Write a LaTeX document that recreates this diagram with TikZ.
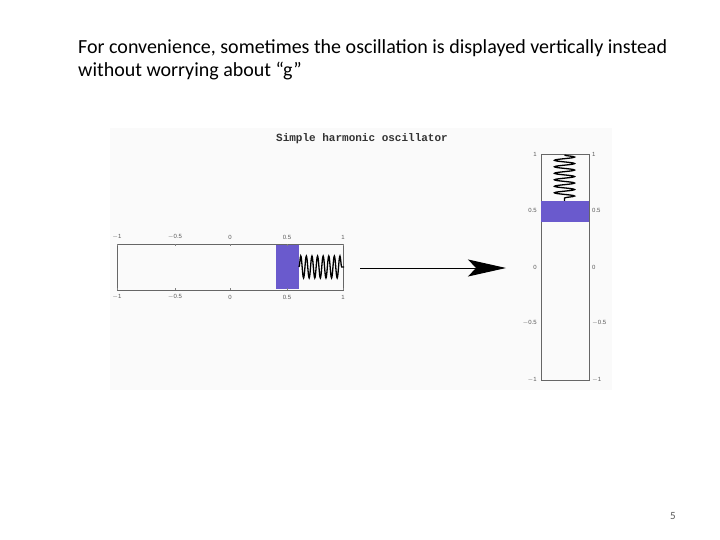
\documentclass[tikz,border=0pt]{standalone}
\usepackage{fontspec}
\setmainfont{Carlito}
\newfontfamily\lib{Liberation Sans}
\newfontfamily\mono{Liberation Mono}
\usetikzlibrary{decorations.pathmorphing,arrows.meta}
\definecolor{mass}{HTML}{6A5ACD}
\tikzset{tl/.style={font=\lib\fontsize{6}{7}\selectfont,text=gray!70!black,inner sep=1pt},
 frame/.style={draw=gray!80!black,line width=0.6pt},
 spr/.style={decorate,decoration={snake,segment length=5.6pt,amplitude=11pt},line width=1.3pt}}
\begin{document}
\begin{tikzpicture}[x=1pt,y=-1pt]
\useasboundingbox (0,0) rectangle (720,540);
\fill[gray!4] (110,128) rectangle (612,390);
\node[anchor=west,align=left,font=\fontsize{20}{23}\selectfont,inner sep=0] (txt) at (78,60) {For convenience, sometimes the oscillation is displayed vertically instead\\without worrying about “g”};
\node[font=\mono\bfseries\fontsize{11}{12}\selectfont,text=black!80] (title) at (362,139) {Simple harmonic oscillator};
% left
\draw[frame] (117,244) rectangle (343,290);
\fill[mass] (276,245) rectangle (299,289);
\coordinate (ls) at (299,267); \coordinate (le) at (344,267);
\draw[spr] (ls) -- (le);
\foreach \x/\l in {117/$-$1,175/$-$0.5,230/0,287/0.5,343/1}{
 \node[tl] at (\x,237) {\l}; \node[tl] at (\x,297) {\l};
 \draw[gray] (\x,244) -- (\x,246); \draw[gray] (\x,290) -- (\x,288);}
% arrow
\coordinate (a1) at (360,268); \coordinate (a2) at (506,268);
\draw[line width=1pt,-{Stealth[length=38pt,width=17pt,inset=8pt]}] (a1) -- (a2);
% right
\draw[frame] (541,154) rectangle (589,380);
\fill[mass] (541,201) rectangle (589,222);
\coordinate (rs) at (564.5,155); \coordinate (re) at (564.5,201);
\draw[spr,decoration={amplitude=10pt,segment length=6.5pt}] (rs) -- (re);
\foreach \y/\l in {154/1,210/0.5,267/0,323/$-$0.5,380/$-$1}{
 \node[tl,anchor=east] at (538,\y) {\l}; \node[tl,anchor=west] at (591,\y) {\l};}
\node[font=\fontsize{11}{13}\selectfont,text=gray!70!black] (pg) at (673,516) {5};
\end{tikzpicture}
\end{document}
